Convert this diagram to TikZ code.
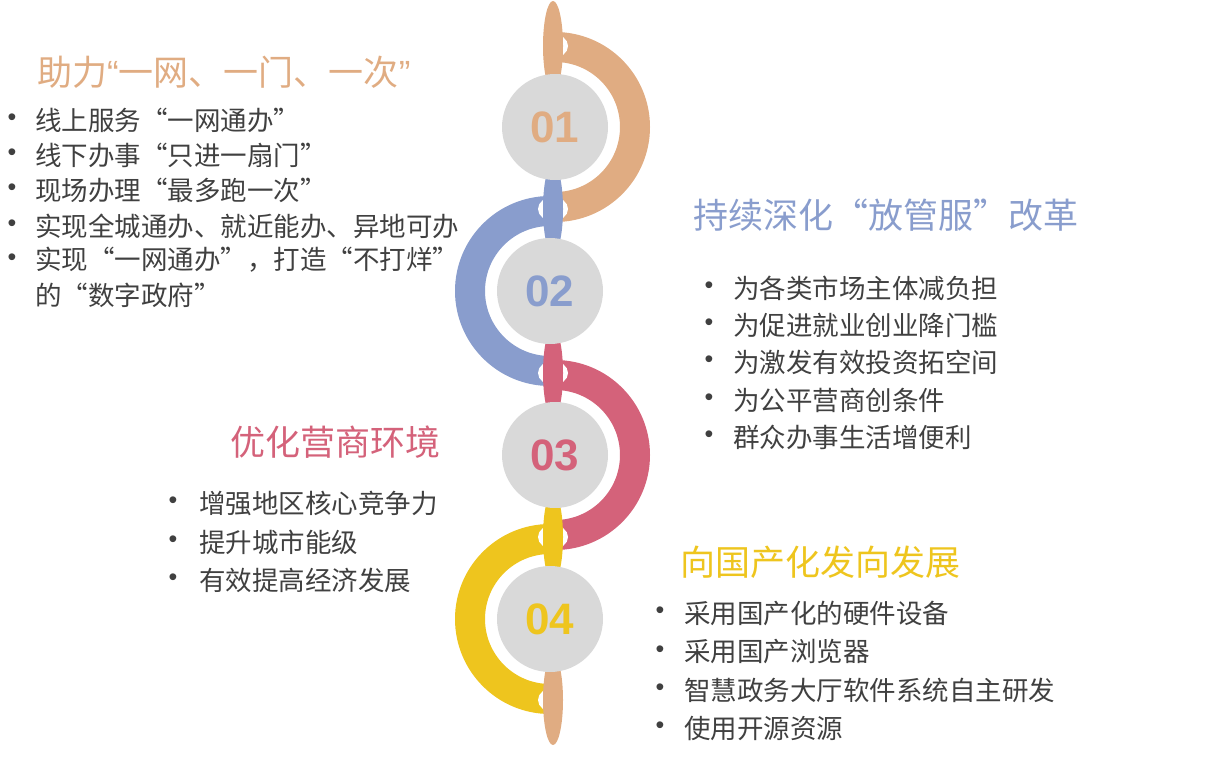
\documentclass[tikz,border=0pt]{standalone}
\usepackage{fontspec}
\setmainfont{Noto Sans CJK SC}
\newfontfamily\numfont{Liberation Sans}
\definecolor{ringA}{RGB}{224,172,130}
\definecolor{ringB}{RGB}{137,157,205}
\definecolor{ringC}{RGB}{212,98,122}
\definecolor{ringD}{RGB}{238,197,30}
\definecolor{discgray}{RGB}{217,217,217}
\definecolor{txtgray}{RGB}{64,64,64}
\tikzset{
  ringline/.style={line width=30pt},
  disc/.style={circle,fill=discgray,minimum size=106pt,inner sep=0pt,font=\numfont\bfseries\fontsize{44}{44}\selectfont},
  title/.style={anchor=west,inner sep=0pt,font=\fontsize{35}{40}\selectfont},
  item/.style={anchor=west,inner sep=0pt,text=txtgray,font=\fontsize{26.5}{30}\selectfont},
  bulletdot/.style={inner sep=0pt,text=txtgray,font=\numfont\fontsize{25}{30}\selectfont}
}
\begin{document}
\begin{tikzpicture}[x=1pt,y=-1pt]
\useasboundingbox (0,0) rectangle (1213,776);
\coordinate (c1) at (555,127);
    \coordinate (c2) at (550,291);
    \coordinate (c3) at (555,455);
    \coordinate (c4) at (550,619);
    \draw [ringline,ringA] ([yshift=80pt]c1) arc[start angle=-90,end angle=90,radius=80];
    \draw [ringline,ringB] ([yshift=80pt]c2) arc[start angle=-90,end angle=-270,radius=80];
    \draw [ringline,ringC] ([yshift=80pt]c3) arc[start angle=-90,end angle=90,radius=80];
    \draw [ringline,ringD] ([yshift=80pt]c4) arc[start angle=-90,end angle=-270,radius=80];
    \fill [white] (553,46) ellipse[x radius=15,y radius=12];
    \fill [white] (553,209) ellipse[x radius=15,y radius=12];
    \fill [white] (553,373) ellipse[x radius=15,y radius=12];
    \fill [white] (553,537) ellipse[x radius=15,y radius=12];
    \fill [white] (553,700) ellipse[x radius=15,y radius=12];
    \fill [ringA] (553,46) ellipse[x radius=10,y radius=45];
    \fill [ringB] (553,209) ellipse[x radius=10,y radius=45];
    \fill [ringC] (553,373) ellipse[x radius=10,y radius=45];
    \fill [ringD] (553,537) ellipse[x radius=10,y radius=45];
    \fill [ringA] (553,700) ellipse[x radius=10,y radius=45];
    \node [disc,text=ringA] (n1) at (c1) {01};
    \node [disc,text=ringB] (n2) at (c2) {02};
    \node [disc,text=ringC] (n3) at (c3) {03};
    \node [disc,text=ringD] (n4) at (c4) {04};

    \node [title,text=ringA] (t1) at (37,72) {助力{\numfont “}一网、一门、一次{\numfont ”}};
    \node [bulletdot] (b11) at (12,120) {•};
    \node [item] (i11) at (35,120) {线上服务“一网通办”};
    \node [bulletdot] (b12) at (12,155) {•};
    \node [item] (i12) at (35,155) {线下办事“只进一扇门”};
    \node [bulletdot] (b13) at (12,190) {•};
    \node [item] (i13) at (35,190) {现场办理“最多跑一次”};
    \node [bulletdot] (b14) at (12,226) {•};
    \node [item] (i14) at (35,226) {实现全城通办、就近能办、异地可办};
    \node [bulletdot] (b15) at (12,260) {•};
    \node [item] (i15) at (35,260) {实现“一网通办”，打造“不打烊”};
    \node [item] (i16) at (35,295) {的“数字政府”};

    \node [title,text=ringB] (t2) at (693,215) {持续深化“放管服”改革};
    \node [bulletdot] (b21) at (709,288) {•};
    \node [item] (i21) at (733,288) {为各类市场主体减负担};
    \node [bulletdot] (b22) at (709,325) {•};
    \node [item] (i22) at (733,325) {为促进就业创业降门槛};
    \node [bulletdot] (b23) at (709,362) {•};
    \node [item] (i23) at (733,362) {为激发有效投资拓空间};
    \node [bulletdot] (b24) at (709,400) {•};
    \node [item] (i24) at (733,400) {为公平营商创条件};
    \node [bulletdot] (b25) at (709,437) {•};
    \node [item] (i25) at (733,437) {群众办事生活增便利};

    \node [title,text=ringC] (t3) at (230,442) {优化营商环境};
    \node [bulletdot] (b31) at (173,503) {•};
    \node [item] (i31) at (199,503) {增强地区核心竞争力};
    \node [bulletdot] (b32) at (173,542) {•};
    \node [item] (i32) at (199,542) {提升城市能级};
    \node [bulletdot] (b33) at (173,580) {•};
    \node [item] (i33) at (199,580) {有效提高经济发展};

    \node [title,text=ringD] (t4) at (680,562) {向国产化发向发展};
    \node [bulletdot] (b41) at (660,613) {•};
    \node [item] (i41) at (684,613) {采用国产化的硬件设备};
    \node [bulletdot] (b42) at (660,652) {•};
    \node [item] (i42) at (684,652) {采用国产浏览器};
    \node [bulletdot] (b43) at (660,690) {•};
    \node [item] (i43) at (684,690) {智慧政务大厅软件系统自主研发};
    \node [bulletdot] (b44) at (660,728) {•};
    \node [item] (i44) at (684,728) {使用开源资源};
\end{tikzpicture}
\end{document}
